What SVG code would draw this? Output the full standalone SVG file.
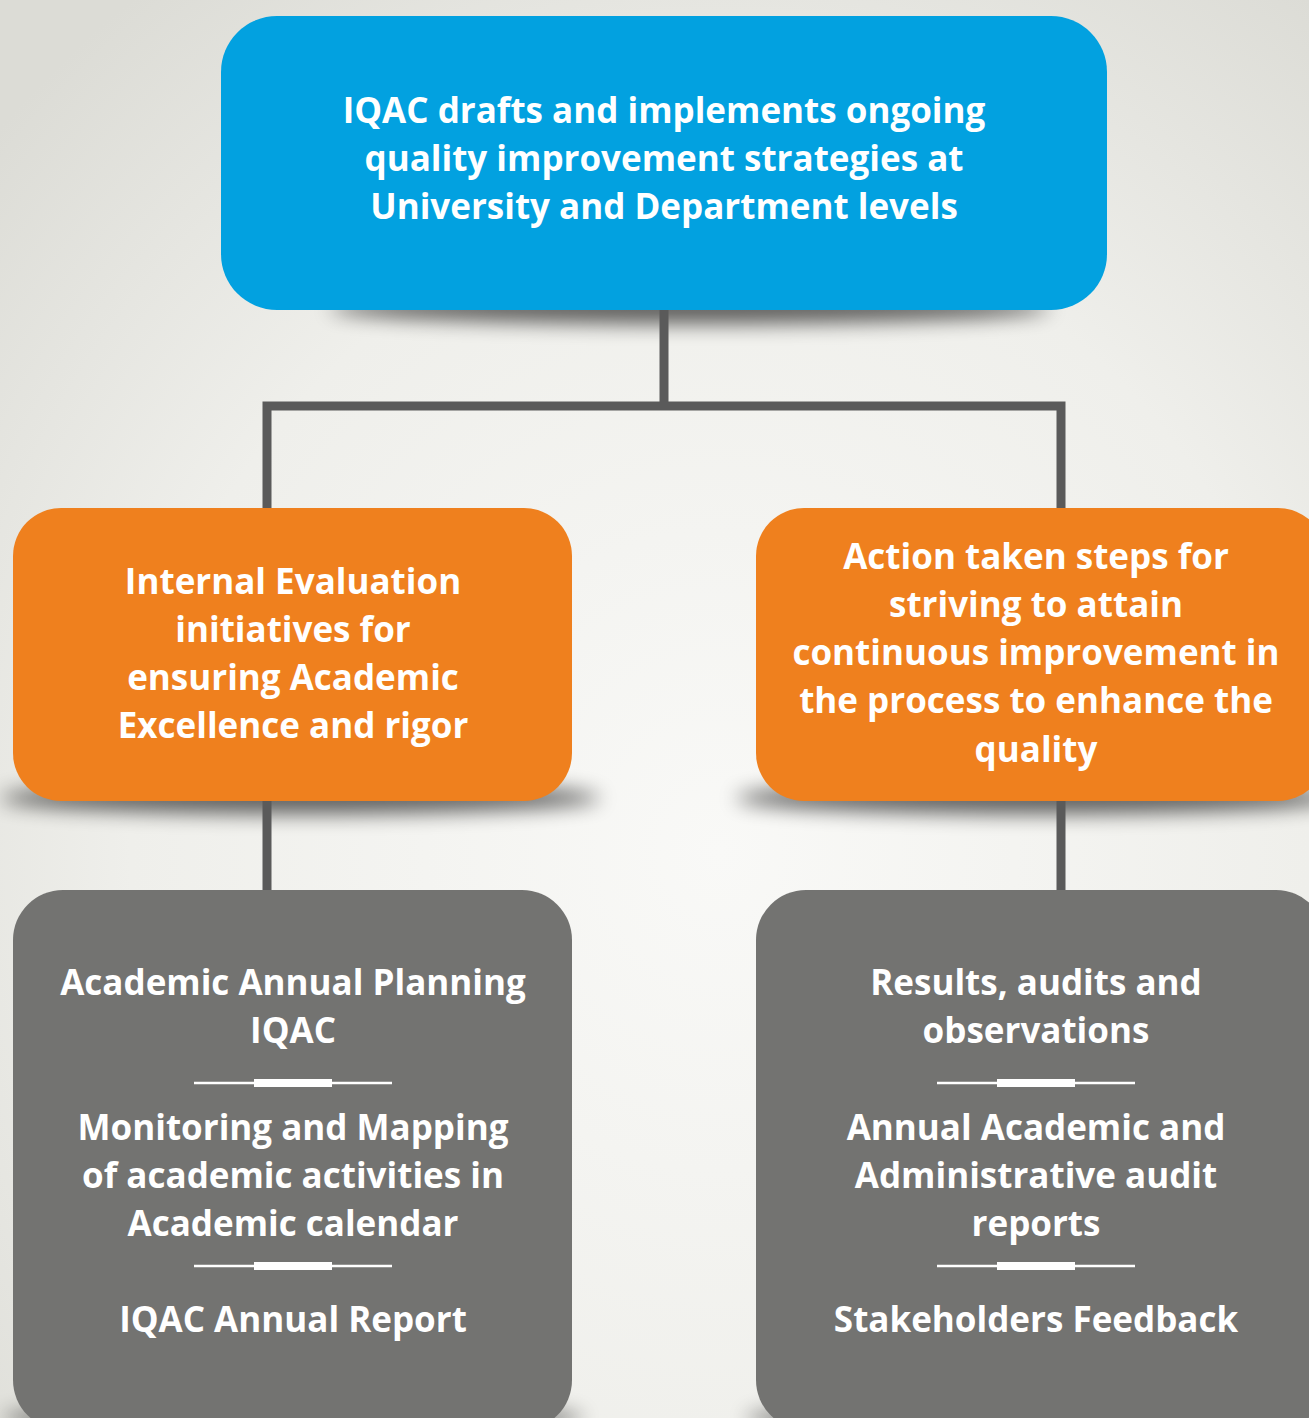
<svg xmlns="http://www.w3.org/2000/svg" width="1309" height="1418" viewBox="0 0 1309 1418">
<defs>
<radialGradient id="bg" cx="0.55" cy="0.6" r="0.75">
<stop offset="0" stop-color="#f9f9f7"/>
<stop offset="0.6" stop-color="#efefeb"/>
<stop offset="1" stop-color="#dcdcd6"/>
</radialGradient>
<filter id="blur" x="-20%" y="-100%" width="140%" height="300%">
<feGaussianBlur stdDeviation="10"/>
</filter>
<style>
.t{font-family:"Open Sans","DejaVu Sans",sans-serif;font-weight:bold;font-size:35px;fill:#ffffff;text-anchor:middle}
.blue{fill:#02a1e0}
.orange{fill:#ef801e}
.grey{fill:#737371}
.conn{stroke:#5a5a5a;stroke-width:9;fill:none}
.shadow{fill:#000;opacity:0.6;filter:url(#blur)}
.thin{stroke:#ffffff;stroke-width:2.5}
.thick{stroke:#ffffff;stroke-width:8}
</style>
</defs>
<rect width="1309" height="1418" fill="url(#bg)"/>

<g id="shadows">
<ellipse class="shadow" cx="690" cy="308" rx="360" ry="16"/>
<ellipse class="shadow" cx="300" cy="798" rx="300" ry="16"/>
<ellipse class="shadow" cx="1036" cy="798" rx="300" ry="16"/>
<ellipse class="shadow" cx="293" cy="1418" rx="290" ry="14"/>
<ellipse class="shadow" cx="1036" cy="1418" rx="290" ry="14"/>
</g>

<g id="connectors">
<path class="conn" d="M664,310 V406 M267,512 V406 H1061 V512"/>
<path class="conn" d="M267,799 V892"/>
<path class="conn" d="M1061,799 V892"/>
</g>

<g id="top">
<rect class="blue" x="221" y="16" width="886" height="294" rx="56"/>
<text class="t" x="664" y="123">IQAC drafts and implements ongoing</text>
<text class="t" x="664" y="171">quality improvement strategies at</text>
<text class="t" x="664" y="219">University and Department levels</text>
</g>

<g id="left-mid">
<rect class="orange" x="13" y="508" width="559" height="293" rx="48"/>
<text class="t" x="293" y="594">Internal Evaluation</text>
<text class="t" x="293" y="642">initiatives for</text>
<text class="t" x="293" y="690">ensuring Academic</text>
<text class="t" x="293" y="738">Excellence and rigor</text>
</g>

<g id="right-mid">
<rect class="orange" x="756" y="508" width="570" height="293" rx="48"/>
<text class="t" x="1036" y="569">Action taken steps for</text>
<text class="t" x="1036" y="617">striving to attain</text>
<text class="t" x="1036" y="665">continuous improvement in</text>
<text class="t" x="1036" y="713">the process to enhance the</text>
<text class="t" x="1036" y="762">quality</text>
</g>

<g id="left-bottom">
<rect class="grey" x="13" y="890" width="559" height="540" rx="50"/>
<text class="t" x="293" y="995">Academic Annual Planning</text>
<text class="t" x="293" y="1043">IQAC</text>
<line class="thin" x1="194" y1="1083" x2="392" y2="1083"/>
<line class="thick" x1="254" y1="1083" x2="332" y2="1083"/>
<text class="t" x="293" y="1140">Monitoring and Mapping</text>
<text class="t" x="293" y="1188">of academic activities in</text>
<text class="t" x="293" y="1236">Academic calendar</text>
<line class="thin" x1="194" y1="1266" x2="392" y2="1266"/>
<line class="thick" x1="254" y1="1266" x2="332" y2="1266"/>
<text class="t" x="293" y="1332">IQAC Annual Report</text>
</g>

<g id="right-bottom">
<rect class="grey" x="756" y="890" width="570" height="540" rx="50"/>
<text class="t" x="1036" y="995">Results, audits and</text>
<text class="t" x="1036" y="1043">observations</text>
<line class="thin" x1="937" y1="1083" x2="1135" y2="1083"/>
<line class="thick" x1="997" y1="1083" x2="1075" y2="1083"/>
<text class="t" x="1036" y="1140">Annual Academic and</text>
<text class="t" x="1036" y="1188">Administrative audit</text>
<text class="t" x="1036" y="1236">reports</text>
<line class="thin" x1="937" y1="1266" x2="1135" y2="1266"/>
<line class="thick" x1="997" y1="1266" x2="1075" y2="1266"/>
<text class="t" x="1036" y="1332">Stakeholders Feedback</text>
</g>
</svg>
